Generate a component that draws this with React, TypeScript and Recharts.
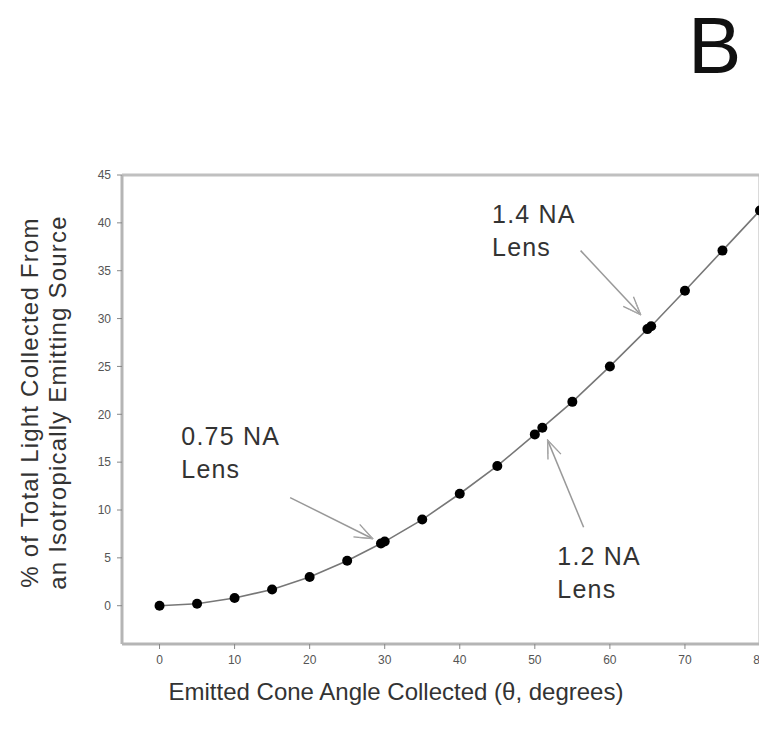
import React from 'react';
import {
    ComposedChart,
    Line,
    XAxis,
    YAxis,
    ReferenceLine,
    ReferenceDot,
} from 'recharts';

// cone half-angle (degrees) and % of light collected
const theta = [0, 5, 10, 15, 20, 25, 29.5, 30, 35, 40, 45, 50, 51, 55, 60, 65, 65.5, 70, 75, 80];
const collected = [0, 0.2, 0.8, 1.7, 3.0, 4.7, 6.5, 6.7, 9.0, 11.7, 14.6, 17.9, 18.6, 21.3, 25.0, 28.9, 29.2, 32.9, 37.1, 41.3];

const xTicks = [0, 10, 20, 30, 40, 50, 60, 70, 80];
const yTicks = [0, 5, 10, 15, 20, 25, 30, 35, 40, 45];

// lens annotations: label anchor and arrow (from -> to)
const lensLabels = [
    { name: '0.75 NA', x: 2.9, y: 16.8, from: [17.4, 11.3], to: [28.4, 7.0] },
    { name: '1.4 NA', x: 44.3, y: 40.0, from: [56.1, 37.1], to: [64.1, 30.4] },
    { name: '1.2 NA', x: 53.0, y: 4.3, from: [56.5, 8.2], to: [51.7, 17.3] },
];

const data = theta.map((t, i) => ({ theta: t, pct: collected[i] }));

const FONT = '"Liberation Sans", Arial, sans-serif';

const AxisY = ({ viewBox }: any) => {
    const cy = viewBox.y + viewBox.height / 2 - 7;
    return (
        <g fontFamily={FONT} fontSize={24} fill="#333" textAnchor="middle" letterSpacing={1.2}>
            <text transform={`translate(38, ${cy}) rotate(-90)`}>% of Total Light Collected From</text>
            <text transform={`translate(66, ${cy}) rotate(-90)`}>an Isotropically Emitting Source</text>
        </g>
    );
};

const AxisX = ({ viewBox }: any) => (
    <text
        x={396}
        y={viewBox.y + 56}
        textAnchor="middle"
        fontFamily={FONT}
        fontSize={24}
        fill="#333"
    >
        Emitted Cone Angle Collected (θ, degrees)
    </text>
);

const LensText = (name: string) => (props: any) => (
    <g fontFamily={FONT} fontSize={25} fill="#333" letterSpacing={1.2}>
        <text x={props.cx} y={props.cy}>{name}</text>
        <text x={props.cx} y={props.cy + 33}>Lens</text>
    </g>
);

const Arrow = (props: any) => (
    <line
        x1={props.x1}
        y1={props.y1}
        x2={props.x2}
        y2={props.y2}
        stroke="#999"
        strokeWidth={1.5}
        markerEnd="url(#openArrow)"
    />
);

export default function App() {
    return (
        <div style={{ position: 'relative', width: 767, height: 734, margin: -8, background: '#fff' }}>
            <svg
                width={767}
                height={100}
                style={{ position: 'absolute', left: 0, top: 0 }}
            >
                <text x={688} y={73} fontFamily={FONT} fontSize={80} fill="#111">
                    B
                </text>
            </svg>
            <ComposedChart
                width={767}
                height={734}
                data={data}
                margin={{ top: 175, right: 7, bottom: 60, left: 0 }}
            >
                <defs>
                    <marker
                        id="openArrow"
                        viewBox="0 0 20 16"
                        refX={19}
                        refY={8}
                        markerWidth={20}
                        markerHeight={16}
                        markerUnits="userSpaceOnUse"
                        orient="auto"
                    >
                        <path d="M1,1 L19,8 L1,15" fill="none" stroke="#999" strokeWidth={1.3} />
                        <path d="M6,3 L19,8 L6,13" fill="none" stroke="#aaa" strokeWidth={1} />
                    </marker>
                </defs>

                <XAxis
                    dataKey="theta"
                    type="number"
                    domain={[-5, 80]}
                    ticks={xTicks}
                    allowDataOverflow
                    height={30}
                    axisLine={{ stroke: '#b5b5b5', strokeWidth: 3 }}
                    tickLine={{ stroke: '#888' }}
                    tickSize={5}
                    tickMargin={6}
                    tick={{ fontSize: 12, fill: '#555', fontFamily: FONT }}
                    label={{ content: AxisX }}
                />
                <YAxis
                    type="number"
                    domain={[-4, 45]}
                    ticks={yTicks}
                    allowDataOverflow
                    width={122}
                    axisLine={{ stroke: '#b5b5b5', strokeWidth: 3 }}
                    tickLine={{ stroke: '#888' }}
                    tickSize={5}
                    tickMargin={6}
                    tick={{ fontSize: 12, fill: '#555', fontFamily: FONT }}
                    label={{ content: AxisY }}
                />

                {/* box frame: top and right */}
                <ReferenceLine y={45} stroke="#c0c0c0" strokeWidth={3} />
                <ReferenceLine x={80} stroke="#b5b5b5" strokeWidth={3} />

                {lensLabels.map((l) => (
                    <ReferenceLine
                        key={l.name + '-arrow'}
                        segment={[
                            { x: l.from[0], y: l.from[1] },
                            { x: l.to[0], y: l.to[1] },
                        ]}
                        shape={Arrow}
                    />
                ))}
                {lensLabels.map((l) => (
                    <ReferenceDot
                        key={l.name}
                        x={l.x}
                        y={l.y}
                        r={0}
                        shape={LensText(l.name)}
                    />
                ))}

                <Line
                    dataKey="pct"
                    type="linear"
                    stroke="#777"
                    strokeWidth={1.6}
                    dot={{ r: 5, fill: '#000', stroke: '#000', strokeWidth: 0 }}
                    isAnimationActive={false}
                />
            </ComposedChart>
        </div>
    );
}
